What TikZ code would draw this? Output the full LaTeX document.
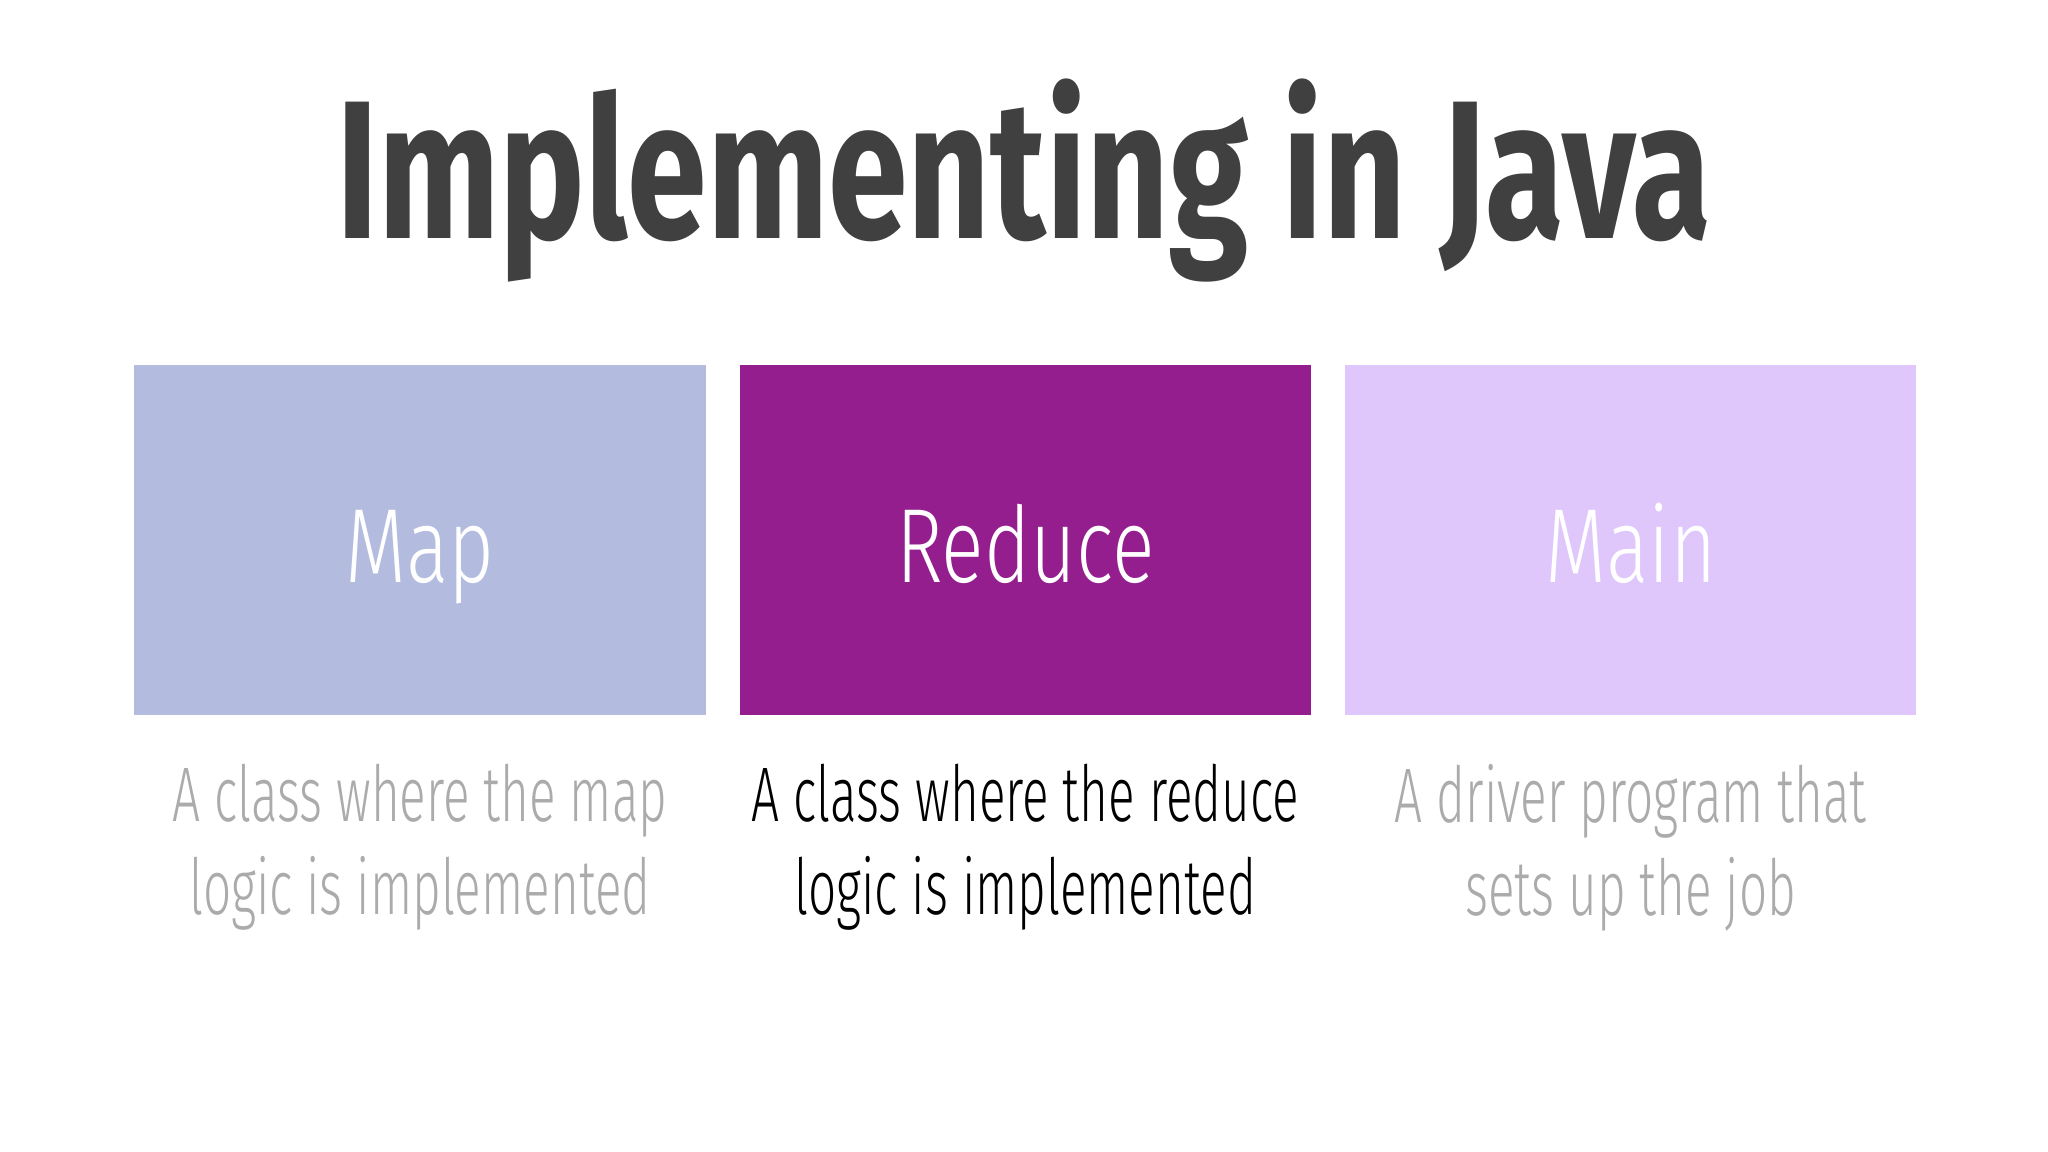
\documentclass[tikz,border=0pt]{standalone}
\usepackage{fontspec}
\setmainfont{Fira Sans Light}[FakeStretch=0.64]
\newfontfamily\labelfont{Fira Sans Light}[FakeStretch=0.75]
\newfontfamily\titlefont{Fira Sans Bold}[FakeStretch=0.73]
\usetikzlibrary{positioning}
\definecolor{mapblue}{HTML}{B3BBDF}
\definecolor{reducepurple}{HTML}{951E8F}
\definecolor{mainlilac}{HTML}{DFC6FB}
\definecolor{titlegray}{HTML}{404040}
\definecolor{descgray}{HTML}{ABABAB}

\begin{document}
\begin{tikzpicture}[
        box/.style={minimum width=5.71cm, minimum height=3.5cm, inner sep=0pt,
                    text height=24pt, text depth=0pt,
                    text=white, font=\labelfont\fontsize{30}{36}\selectfont},
        desc/.style={align=center, inner sep=0pt,
                     font=\fontsize{22}{26.5}\selectfont}
        ]
        \useasboundingbox (0,0) rectangle (20.48,11.52);

        \node[anchor=base, text=titlegray, font=\titlefont\fontsize{56}{60}\selectfont]
              (title) at (10.24,9.13) {Implementing in Java};

        \node[box, fill=mapblue]                           (map)    at (4.20,6.12) {Map};
        \node[box, fill=reducepurple, right=0.33cm of map]    (reduce) {Reduce};
        \node[box, fill=mainlilac, right=0.33cm of reduce]    (main)   {Main};

        % descriptions under the boxes
        \node[desc, text=descgray, anchor=north] (mapdesc)    at ([yshift=-0.48cm]map.south)
              {A class where the map\\logic is implemented};
        \node[desc, text=black, anchor=north]    (reducedesc) at ([yshift=-0.48cm]reduce.south)
              {A class where the reduce\\logic is implemented};
        \node[desc, text=descgray, anchor=north] (maindesc)   at ([yshift=-0.48cm]main.south)
              {A driver program that\\sets up the job};
\end{tikzpicture}
\end{document}
